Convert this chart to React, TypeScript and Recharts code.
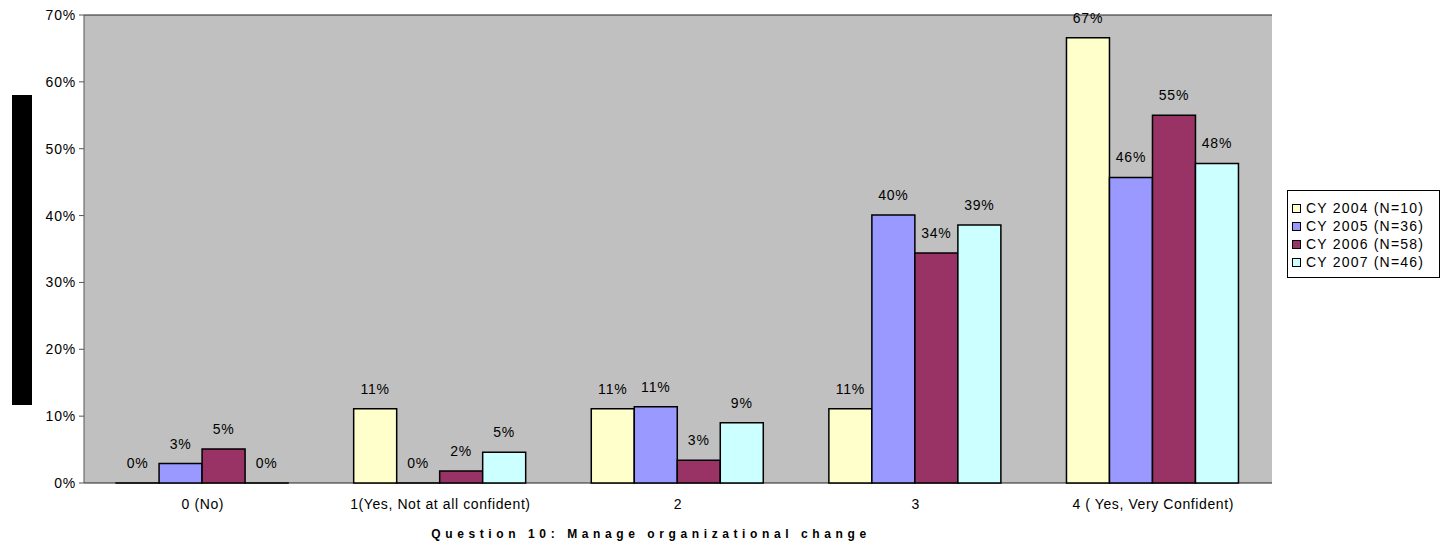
import { BarChart, Bar, XAxis, YAxis, CartesianGrid, Legend, LabelList } from "recharts";

const categories = ["0 (No)", "1(Yes, Not at all confident)", "2", "3", "4 ( Yes, Very Confident)"];
const cy2004 = [0, 11.1, 11.1, 11.1, 66.6];
const cy2005 = [2.9, 0, 11.4, 40.1, 45.7];
const cy2006 = [5.1, 1.8, 3.4, 34.4, 55.0];
const cy2007 = [0, 4.6, 9.0, 38.6, 47.8];
const seriesNames = ["CY 2004 (N=10)", "CY 2005 (N=36)", "CY 2006 (N=58)", "CY 2007 (N=46)"];
const seriesColors = ["#FFFFCC", "#9999FF", "#993366", "#CCFFFF"];
const yTicks = [0, 10, 20, 30, 40, 50, 60, 70];
const boundaryTicks = [0, 1, 2, 3, 4, 5];

const data = categories.map((c, i) => ({
  name: c,
  idx: i + 0.5,
  s0: cy2004[i],
  s1: cy2005[i],
  s2: cy2006[i],
  s3: cy2007[i],
}));

const font = "'Liberation Sans', Arial, sans-serif";

const LegendBox = () => (
  <div
    style={{
      border: "1px solid #000",
      background: "#fff",
      padding: "8px 4px 6px 4px",
      fontFamily: font,
      fontSize: 14,
      letterSpacing: 1.2,
      color: "#000",
    }}
  >
    {seriesNames.map((n, i) => (
      <div key={n} style={{ display: "flex", alignItems: "center", height: 18 }}>
        <span
          style={{
            width: 7,
            height: 7,
            background: seriesColors[i],
            border: "1px solid #000",
            marginRight: 5,
            display: "inline-block",
          }}
        />
        {n}
      </div>
    ))}
  </div>
);

const App = () => {
  return (
    <div style={{ position: "absolute", left: 0, top: 0, width: 1444, height: 546, background: "#fff" }}>
      <div
        style={{ position: "absolute", left: 12, top: 95, width: 20, height: 310, background: "#000" }}
      />
      <BarChart
        width={1444}
        height={546}
        data={data}
        margin={{ top: 15, right: 172, bottom: 0, left: 34 }}
        barCategoryGap="13.5%"
        barGap={0}
      >
        <CartesianGrid vertical={false} fill="#C0C0C0" stroke="#222" />
        <XAxis
          xAxisId="b"
          type="number"
          dataKey="idx"
          domain={[0, 5]}
          ticks={boundaryTicks}
          tickFormatter={() => ""}
          height={0}
          tickSize={5}
          stroke="#000"
          allowDataOverflow
        />
        <XAxis
          xAxisId="c"
          dataKey="name"
          height={63}
          axisLine={false}
          tickLine={false}
          tick={{ fill: "#000", fontSize: 14, fontFamily: font, letterSpacing: 0.6 }}
          tickMargin={10}
          interval={0}
          label={{
            value: "Question 10: Manage organizational change",
            position: "insideBottom",
            offset: 8,
            dx: -27,
            style: { fill: "#000", fontSize: 12, fontWeight: "bold", fontFamily: font, letterSpacing: 4.6 },
          }}
        />
        <YAxis
          yAxisId="l"
          domain={[0, 70]}
          ticks={yTicks}
          width={50}
          tickFormatter={(v) => `${v}%`}
          tick={{ fill: "#000", fontSize: 14, fontFamily: font, letterSpacing: 0.8 }}
          tickSize={5}
          tickMargin={3}
          stroke="#555"
        />
        <YAxis
          yAxisId="r"
          orientation="right"
          domain={[0, 70]}
          width={0}
          tick={false}
          tickLine={false}
          stroke="#808080"
        />
        <Legend
          layout="vertical"
          align="center"
          verticalAlign="middle"
          content={<LegendBox />}
          wrapperStyle={{ left: 1287, top: 190, right: "auto", width: 153 }}
        />
        {["s0", "s1", "s2", "s3"].map((k, i) => (
          <Bar
            key={k}
            dataKey={k}
            xAxisId="c"
            yAxisId="l"
            fill={seriesColors[i]}
            stroke="#000"
            strokeWidth={1.5}
            name={seriesNames[i]}
            minPointSize={0.01}
            isAnimationActive={false}
          >
            <LabelList
              dataKey={k}
              position="top"
              offset={15}
              formatter={(v: number) => `${Math.round(v)}%`}
              style={{ fill: "#000", fontSize: 14, fontFamily: font, letterSpacing: 0.8 }}
            />
          </Bar>
        ))}
      </BarChart>
    </div>
  );
};

export default App;
